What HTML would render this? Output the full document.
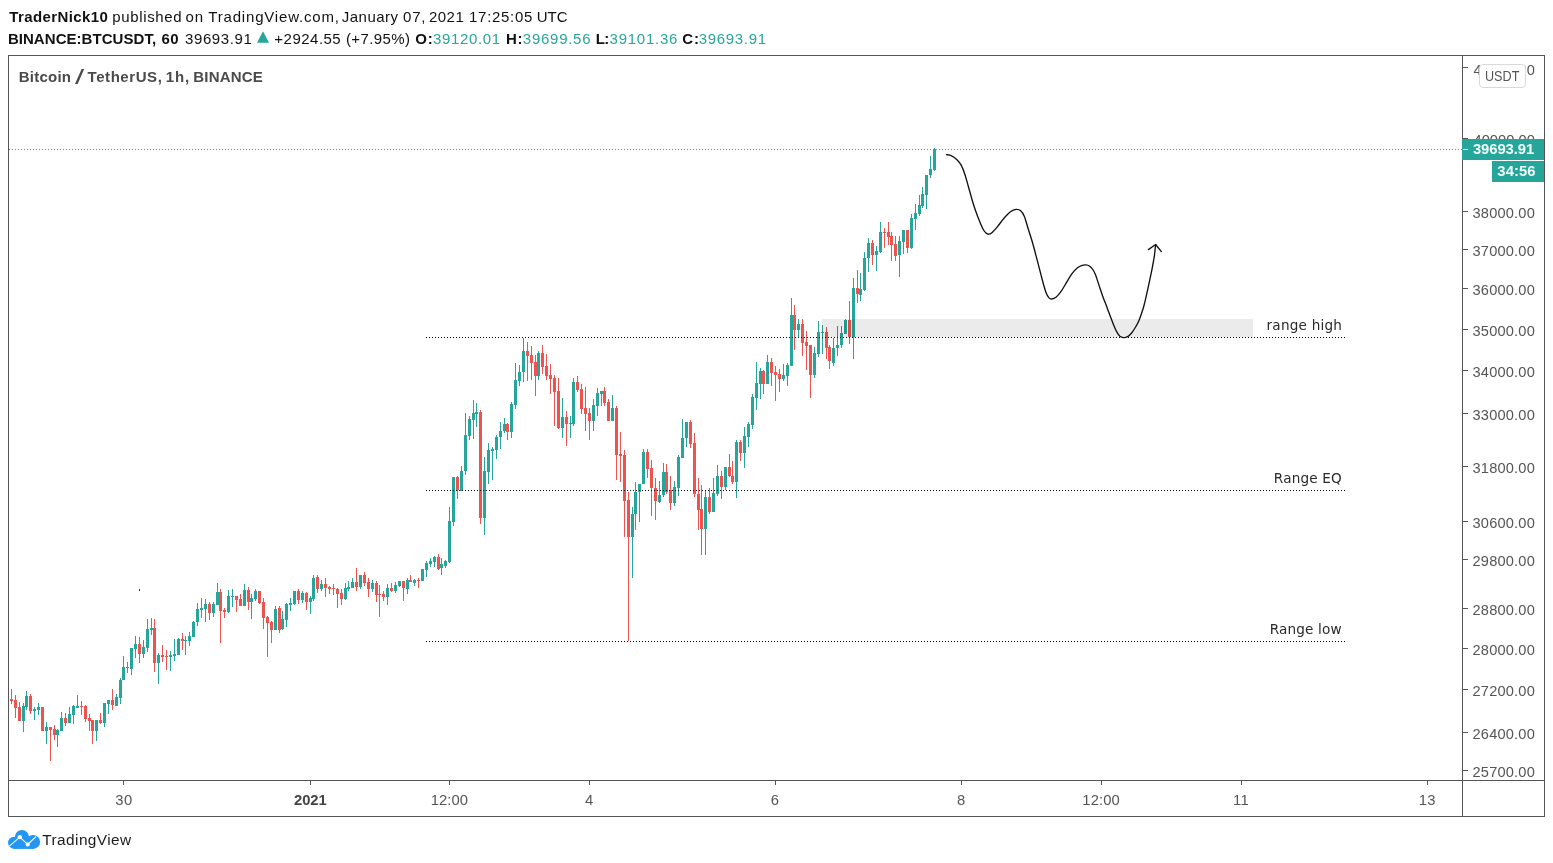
<!DOCTYPE html>
<html><head><meta charset="utf-8"><title>BTCUSDT chart</title>
<style>
html,body{margin:0;padding:0;background:#fff;}
body{width:1553px;height:863px;position:relative;overflow:hidden;font-family:"Liberation Sans",sans-serif;color:#111;}
.abs{position:absolute;left:0;top:0;}
.t{position:absolute;line-height:30px;white-space:pre;}
.frame{position:absolute;left:8px;top:55px;width:1535px;height:760px;border:1px solid #555;}
.vsep{position:absolute;left:1462px;top:55px;width:1px;height:762px;background:#555;}
.hsep{position:absolute;left:8px;top:780px;width:1537px;height:1px;background:#555;}
.usdt{position:absolute;left:1479px;top:64px;width:45px;height:22px;border:1px solid #d9d9d9;border-radius:4px;background:#fff;}
.pbox{position:absolute;left:1462px;top:139px;width:82px;height:21px;background:#26a69a;}
.cbox{position:absolute;left:1492px;top:161px;width:52px;height:21px;background:#26a69a;}
</style></head><body>
<div class="frame"></div><div class="vsep"></div><div class="hsep"></div>
<span class="t" style="left:1473.50px;top:124.70px;font-size:14.6px;letter-spacing:0.06px;color:#555;">40000.00</span>
<span class="t" style="left:1472.50px;top:197.70px;font-size:14.6px;letter-spacing:0.20px;color:#555;">38000.00</span>
<span class="t" style="left:1472.50px;top:235.70px;font-size:14.6px;letter-spacing:0.20px;color:#555;">37000.00</span>
<span class="t" style="left:1472.50px;top:274.70px;font-size:14.6px;letter-spacing:0.20px;color:#555;">36000.00</span>
<span class="t" style="left:1472.50px;top:315.70px;font-size:14.6px;letter-spacing:0.20px;color:#555;">35000.00</span>
<span class="t" style="left:1472.50px;top:356.70px;font-size:14.6px;letter-spacing:0.20px;color:#555;">34000.00</span>
<span class="t" style="left:1472.50px;top:399.70px;font-size:14.6px;letter-spacing:0.20px;color:#555;">33000.00</span>
<span class="t" style="left:1472.50px;top:452.70px;font-size:14.6px;letter-spacing:0.20px;color:#555;">31800.00</span>
<span class="t" style="left:1472.50px;top:507.70px;font-size:14.6px;letter-spacing:0.20px;color:#555;">30600.00</span>
<span class="t" style="left:1472.50px;top:545.70px;font-size:14.6px;letter-spacing:0.20px;color:#555;">29800.00</span>
<span class="t" style="left:1472.50px;top:594.70px;font-size:14.6px;letter-spacing:0.20px;color:#555;">28800.00</span>
<span class="t" style="left:1472.50px;top:634.70px;font-size:14.6px;letter-spacing:0.20px;color:#555;">28000.00</span>
<span class="t" style="left:1472.50px;top:675.70px;font-size:14.6px;letter-spacing:0.20px;color:#555;">27200.00</span>
<span class="t" style="left:1472.50px;top:718.70px;font-size:14.6px;letter-spacing:0.20px;color:#555;">26400.00</span>
<span class="t" style="left:1472.50px;top:756.70px;font-size:14.6px;letter-spacing:0.20px;color:#555;">25700.00</span>
<span class="t" style="left:1473.50px;top:55.00px;font-size:14.6px;letter-spacing:0.06px;color:#555;">42000.00</span>
<svg class="abs" width="1553" height="863" viewBox="0 0 1553 863" shape-rendering="crispEdges">
<line x1="9" x2="1462" y1="149.5" y2="149.5" stroke="#4f9a92" stroke-width="1" stroke-dasharray="1 2"/>
<rect x="1463" y="67" width="5" height="1" fill="#555"/><rect x="1463" y="138" width="5" height="1" fill="#555"/><rect x="1463" y="211" width="5" height="1" fill="#555"/><rect x="1463" y="249" width="5" height="1" fill="#555"/><rect x="1463" y="288" width="5" height="1" fill="#555"/><rect x="1463" y="329" width="5" height="1" fill="#555"/><rect x="1463" y="370" width="5" height="1" fill="#555"/><rect x="1463" y="413" width="5" height="1" fill="#555"/><rect x="1463" y="466" width="5" height="1" fill="#555"/><rect x="1463" y="521" width="5" height="1" fill="#555"/><rect x="1463" y="559" width="5" height="1" fill="#555"/><rect x="1463" y="608" width="5" height="1" fill="#555"/><rect x="1463" y="648" width="5" height="1" fill="#555"/><rect x="1463" y="689" width="5" height="1" fill="#555"/><rect x="1463" y="732" width="5" height="1" fill="#555"/><rect x="1463" y="770" width="5" height="1" fill="#555"/><rect x="123" y="781" width="1" height="4" fill="#555"/><rect x="310" y="781" width="1" height="4" fill="#555"/><rect x="449" y="781" width="1" height="4" fill="#555"/><rect x="589" y="781" width="1" height="4" fill="#555"/><rect x="775" y="781" width="1" height="4" fill="#555"/><rect x="961" y="781" width="1" height="4" fill="#555"/><rect x="1101" y="781" width="1" height="4" fill="#555"/><rect x="1241" y="781" width="1" height="4" fill="#555"/><rect x="1427" y="781" width="1" height="4" fill="#555"/>
<rect x="11" y="689" width="1" height="15" fill="#ef5350"/>
<rect x="10" y="699" width="3" height="2" fill="#ef5350"/>
<rect x="15" y="695" width="1" height="23" fill="#ef5350"/>
<rect x="14" y="700" width="3" height="8" fill="#ef5350"/>
<rect x="19" y="702" width="1" height="19" fill="#ef5350"/>
<rect x="18" y="707" width="3" height="14" fill="#ef5350"/>
<rect x="23" y="703" width="1" height="29" fill="#26a69a"/>
<rect x="22" y="706" width="3" height="15" fill="#26a69a"/>
<rect x="26" y="691" width="1" height="19" fill="#26a69a"/>
<rect x="25" y="696" width="3" height="11" fill="#26a69a"/>
<rect x="30" y="694" width="1" height="20" fill="#ef5350"/>
<rect x="29" y="696" width="3" height="15" fill="#ef5350"/>
<rect x="34" y="707" width="1" height="13" fill="#26a69a"/>
<rect x="33" y="709" width="3" height="2" fill="#26a69a"/>
<rect x="38" y="703" width="1" height="12" fill="#26a69a"/>
<rect x="37" y="707" width="3" height="3" fill="#26a69a"/>
<rect x="42" y="707" width="1" height="24" fill="#ef5350"/>
<rect x="41" y="707" width="3" height="24" fill="#ef5350"/>
<rect x="46" y="722" width="1" height="22" fill="#26a69a"/>
<rect x="45" y="727" width="3" height="4" fill="#26a69a"/>
<rect x="50" y="727" width="1" height="34" fill="#ef5350"/>
<rect x="49" y="727" width="3" height="3" fill="#ef5350"/>
<rect x="54" y="725" width="1" height="15" fill="#ef5350"/>
<rect x="53" y="729" width="3" height="6" fill="#ef5350"/>
<rect x="57" y="729" width="1" height="18" fill="#26a69a"/>
<rect x="56" y="730" width="3" height="5" fill="#26a69a"/>
<rect x="61" y="712" width="1" height="19" fill="#26a69a"/>
<rect x="60" y="718" width="3" height="13" fill="#26a69a"/>
<rect x="65" y="713" width="1" height="13" fill="#ef5350"/>
<rect x="64" y="718" width="3" height="5" fill="#ef5350"/>
<rect x="69" y="707" width="1" height="16" fill="#26a69a"/>
<rect x="68" y="714" width="3" height="9" fill="#26a69a"/>
<rect x="73" y="705" width="1" height="19" fill="#26a69a"/>
<rect x="72" y="706" width="3" height="9" fill="#26a69a"/>
<rect x="77" y="695" width="1" height="13" fill="#26a69a"/>
<rect x="76" y="706" width="3" height="2" fill="#26a69a"/>
<rect x="81" y="701" width="1" height="14" fill="#ef5350"/>
<rect x="80" y="706" width="3" height="1" fill="#ef5350"/>
<rect x="85" y="705" width="1" height="17" fill="#ef5350"/>
<rect x="84" y="706" width="3" height="13" fill="#ef5350"/>
<rect x="89" y="714" width="1" height="17" fill="#ef5350"/>
<rect x="88" y="718" width="3" height="3" fill="#ef5350"/>
<rect x="92" y="720" width="1" height="24" fill="#ef5350"/>
<rect x="91" y="720" width="3" height="11" fill="#ef5350"/>
<rect x="96" y="720" width="1" height="21" fill="#26a69a"/>
<rect x="95" y="720" width="3" height="11" fill="#26a69a"/>
<rect x="100" y="713" width="1" height="11" fill="#ef5350"/>
<rect x="99" y="720" width="3" height="3" fill="#ef5350"/>
<rect x="104" y="703" width="1" height="24" fill="#26a69a"/>
<rect x="103" y="703" width="3" height="20" fill="#26a69a"/>
<rect x="108" y="700" width="1" height="14" fill="#26a69a"/>
<rect x="107" y="700" width="3" height="4" fill="#26a69a"/>
<rect x="112" y="689" width="1" height="21" fill="#ef5350"/>
<rect x="111" y="700" width="3" height="5" fill="#ef5350"/>
<rect x="116" y="694" width="1" height="12" fill="#26a69a"/>
<rect x="115" y="697" width="3" height="9" fill="#26a69a"/>
<rect x="120" y="678" width="1" height="26" fill="#26a69a"/>
<rect x="119" y="680" width="3" height="18" fill="#26a69a"/>
<rect x="123" y="656" width="1" height="24" fill="#26a69a"/>
<rect x="122" y="667" width="3" height="13" fill="#26a69a"/>
<rect x="127" y="662" width="1" height="11" fill="#ef5350"/>
<rect x="126" y="667" width="3" height="1" fill="#ef5350"/>
<rect x="131" y="648" width="1" height="27" fill="#26a69a"/>
<rect x="130" y="648" width="3" height="21" fill="#26a69a"/>
<rect x="135" y="636" width="1" height="22" fill="#26a69a"/>
<rect x="134" y="644" width="3" height="5" fill="#26a69a"/>
<rect x="139" y="637" width="1" height="26" fill="#ef5350"/>
<rect x="138" y="644" width="3" height="10" fill="#ef5350"/>
<rect x="143" y="640" width="1" height="18" fill="#26a69a"/>
<rect x="142" y="647" width="3" height="7" fill="#26a69a"/>
<rect x="147" y="619" width="1" height="33" fill="#26a69a"/>
<rect x="146" y="629" width="3" height="19" fill="#26a69a"/>
<rect x="151" y="618" width="1" height="17" fill="#26a69a"/>
<rect x="150" y="628" width="3" height="2" fill="#26a69a"/>
<rect x="154" y="619" width="1" height="53" fill="#ef5350"/>
<rect x="153" y="628" width="3" height="35" fill="#ef5350"/>
<rect x="158" y="653" width="1" height="31" fill="#26a69a"/>
<rect x="157" y="655" width="3" height="8" fill="#26a69a"/>
<rect x="162" y="645" width="1" height="17" fill="#ef5350"/>
<rect x="161" y="655" width="3" height="2" fill="#ef5350"/>
<rect x="166" y="650" width="1" height="20" fill="#ef5350"/>
<rect x="165" y="656" width="3" height="1" fill="#ef5350"/>
<rect x="170" y="651" width="1" height="20" fill="#26a69a"/>
<rect x="169" y="655" width="3" height="2" fill="#26a69a"/>
<rect x="174" y="639" width="1" height="22" fill="#26a69a"/>
<rect x="173" y="654" width="3" height="2" fill="#26a69a"/>
<rect x="178" y="638" width="1" height="17" fill="#26a69a"/>
<rect x="177" y="639" width="3" height="16" fill="#26a69a"/>
<rect x="182" y="633" width="1" height="17" fill="#ef5350"/>
<rect x="181" y="639" width="3" height="2" fill="#ef5350"/>
<rect x="185" y="636" width="1" height="19" fill="#26a69a"/>
<rect x="184" y="640" width="3" height="1" fill="#26a69a"/>
<rect x="189" y="632" width="1" height="14" fill="#26a69a"/>
<rect x="188" y="636" width="3" height="5" fill="#26a69a"/>
<rect x="193" y="621" width="1" height="16" fill="#26a69a"/>
<rect x="192" y="622" width="3" height="15" fill="#26a69a"/>
<rect x="197" y="603" width="1" height="23" fill="#26a69a"/>
<rect x="196" y="609" width="3" height="13" fill="#26a69a"/>
<rect x="201" y="598" width="1" height="20" fill="#26a69a"/>
<rect x="200" y="608" width="3" height="2" fill="#26a69a"/>
<rect x="205" y="599" width="1" height="23" fill="#26a69a"/>
<rect x="204" y="604" width="3" height="5" fill="#26a69a"/>
<rect x="209" y="602" width="1" height="18" fill="#ef5350"/>
<rect x="208" y="604" width="3" height="9" fill="#ef5350"/>
<rect x="213" y="602" width="1" height="15" fill="#26a69a"/>
<rect x="212" y="604" width="3" height="9" fill="#26a69a"/>
<rect x="217" y="583" width="1" height="22" fill="#26a69a"/>
<rect x="216" y="592" width="3" height="13" fill="#26a69a"/>
<rect x="220" y="589" width="1" height="54" fill="#ef5350"/>
<rect x="219" y="592" width="3" height="19" fill="#ef5350"/>
<rect x="224" y="608" width="1" height="10" fill="#ef5350"/>
<rect x="223" y="610" width="3" height="2" fill="#ef5350"/>
<rect x="228" y="590" width="1" height="23" fill="#26a69a"/>
<rect x="227" y="596" width="3" height="16" fill="#26a69a"/>
<rect x="232" y="589" width="1" height="18" fill="#26a69a"/>
<rect x="231" y="596" width="3" height="1" fill="#26a69a"/>
<rect x="236" y="596" width="1" height="16" fill="#ef5350"/>
<rect x="235" y="596" width="3" height="4" fill="#ef5350"/>
<rect x="240" y="594" width="1" height="12" fill="#ef5350"/>
<rect x="239" y="599" width="3" height="7" fill="#ef5350"/>
<rect x="244" y="584" width="1" height="22" fill="#26a69a"/>
<rect x="243" y="590" width="3" height="16" fill="#26a69a"/>
<rect x="248" y="587" width="1" height="23" fill="#ef5350"/>
<rect x="247" y="590" width="3" height="12" fill="#ef5350"/>
<rect x="251" y="594" width="1" height="25" fill="#26a69a"/>
<rect x="250" y="598" width="3" height="4" fill="#26a69a"/>
<rect x="255" y="589" width="1" height="12" fill="#26a69a"/>
<rect x="254" y="591" width="3" height="8" fill="#26a69a"/>
<rect x="259" y="591" width="1" height="13" fill="#ef5350"/>
<rect x="258" y="591" width="3" height="12" fill="#ef5350"/>
<rect x="263" y="598" width="1" height="31" fill="#ef5350"/>
<rect x="262" y="602" width="3" height="16" fill="#ef5350"/>
<rect x="267" y="616" width="1" height="41" fill="#ef5350"/>
<rect x="266" y="617" width="3" height="6" fill="#ef5350"/>
<rect x="271" y="621" width="1" height="22" fill="#ef5350"/>
<rect x="270" y="622" width="3" height="8" fill="#ef5350"/>
<rect x="275" y="606" width="1" height="24" fill="#26a69a"/>
<rect x="274" y="609" width="3" height="21" fill="#26a69a"/>
<rect x="279" y="606" width="1" height="27" fill="#ef5350"/>
<rect x="278" y="608" width="3" height="22" fill="#ef5350"/>
<rect x="282" y="611" width="1" height="19" fill="#26a69a"/>
<rect x="281" y="619" width="3" height="10" fill="#26a69a"/>
<rect x="286" y="603" width="1" height="24" fill="#26a69a"/>
<rect x="285" y="604" width="3" height="16" fill="#26a69a"/>
<rect x="290" y="598" width="1" height="13" fill="#26a69a"/>
<rect x="289" y="603" width="3" height="2" fill="#26a69a"/>
<rect x="294" y="591" width="1" height="14" fill="#26a69a"/>
<rect x="293" y="591" width="3" height="13" fill="#26a69a"/>
<rect x="298" y="589" width="1" height="15" fill="#ef5350"/>
<rect x="297" y="591" width="3" height="9" fill="#ef5350"/>
<rect x="302" y="591" width="1" height="12" fill="#26a69a"/>
<rect x="301" y="593" width="3" height="7" fill="#26a69a"/>
<rect x="306" y="592" width="1" height="18" fill="#ef5350"/>
<rect x="305" y="593" width="3" height="9" fill="#ef5350"/>
<rect x="310" y="596" width="1" height="18" fill="#26a69a"/>
<rect x="309" y="598" width="3" height="4" fill="#26a69a"/>
<rect x="313" y="575" width="1" height="26" fill="#26a69a"/>
<rect x="312" y="578" width="3" height="21" fill="#26a69a"/>
<rect x="317" y="575" width="1" height="18" fill="#ef5350"/>
<rect x="316" y="577" width="3" height="12" fill="#ef5350"/>
<rect x="321" y="580" width="1" height="11" fill="#26a69a"/>
<rect x="320" y="584" width="3" height="5" fill="#26a69a"/>
<rect x="325" y="578" width="1" height="19" fill="#ef5350"/>
<rect x="324" y="584" width="3" height="4" fill="#ef5350"/>
<rect x="329" y="586" width="1" height="8" fill="#ef5350"/>
<rect x="328" y="587" width="3" height="2" fill="#ef5350"/>
<rect x="333" y="584" width="1" height="11" fill="#ef5350"/>
<rect x="332" y="588" width="3" height="1" fill="#ef5350"/>
<rect x="337" y="588" width="1" height="20" fill="#ef5350"/>
<rect x="336" y="589" width="3" height="5" fill="#ef5350"/>
<rect x="341" y="589" width="1" height="16" fill="#ef5350"/>
<rect x="340" y="593" width="3" height="6" fill="#ef5350"/>
<rect x="345" y="583" width="1" height="17" fill="#26a69a"/>
<rect x="344" y="588" width="3" height="11" fill="#26a69a"/>
<rect x="348" y="581" width="1" height="10" fill="#26a69a"/>
<rect x="347" y="587" width="3" height="2" fill="#26a69a"/>
<rect x="352" y="578" width="1" height="10" fill="#26a69a"/>
<rect x="351" y="582" width="3" height="6" fill="#26a69a"/>
<rect x="356" y="568" width="1" height="23" fill="#ef5350"/>
<rect x="355" y="582" width="3" height="5" fill="#ef5350"/>
<rect x="360" y="575" width="1" height="14" fill="#26a69a"/>
<rect x="359" y="575" width="3" height="12" fill="#26a69a"/>
<rect x="364" y="572" width="1" height="14" fill="#ef5350"/>
<rect x="363" y="575" width="3" height="8" fill="#ef5350"/>
<rect x="368" y="578" width="1" height="19" fill="#ef5350"/>
<rect x="367" y="582" width="3" height="7" fill="#ef5350"/>
<rect x="372" y="580" width="1" height="12" fill="#26a69a"/>
<rect x="371" y="583" width="3" height="6" fill="#26a69a"/>
<rect x="376" y="581" width="1" height="21" fill="#ef5350"/>
<rect x="375" y="583" width="3" height="12" fill="#ef5350"/>
<rect x="379" y="585" width="1" height="32" fill="#ef5350"/>
<rect x="378" y="594" width="3" height="1" fill="#ef5350"/>
<rect x="383" y="591" width="1" height="10" fill="#ef5350"/>
<rect x="382" y="594" width="3" height="3" fill="#ef5350"/>
<rect x="387" y="584" width="1" height="21" fill="#26a69a"/>
<rect x="386" y="588" width="3" height="9" fill="#26a69a"/>
<rect x="391" y="583" width="1" height="9" fill="#ef5350"/>
<rect x="390" y="588" width="3" height="3" fill="#ef5350"/>
<rect x="395" y="582" width="1" height="11" fill="#26a69a"/>
<rect x="394" y="585" width="3" height="6" fill="#26a69a"/>
<rect x="399" y="581" width="1" height="6" fill="#26a69a"/>
<rect x="398" y="581" width="3" height="5" fill="#26a69a"/>
<rect x="403" y="581" width="1" height="20" fill="#ef5350"/>
<rect x="402" y="581" width="3" height="7" fill="#ef5350"/>
<rect x="407" y="578" width="1" height="16" fill="#26a69a"/>
<rect x="406" y="580" width="3" height="9" fill="#26a69a"/>
<rect x="410" y="575" width="1" height="7" fill="#ef5350"/>
<rect x="409" y="580" width="3" height="2" fill="#ef5350"/>
<rect x="414" y="579" width="1" height="7" fill="#26a69a"/>
<rect x="413" y="580" width="3" height="3" fill="#26a69a"/>
<rect x="418" y="578" width="1" height="10" fill="#ef5350"/>
<rect x="417" y="580" width="3" height="1" fill="#ef5350"/>
<rect x="422" y="569" width="1" height="12" fill="#26a69a"/>
<rect x="421" y="569" width="3" height="12" fill="#26a69a"/>
<rect x="426" y="561" width="1" height="16" fill="#26a69a"/>
<rect x="425" y="563" width="3" height="7" fill="#26a69a"/>
<rect x="430" y="558" width="1" height="9" fill="#26a69a"/>
<rect x="429" y="561" width="3" height="3" fill="#26a69a"/>
<rect x="434" y="556" width="1" height="11" fill="#26a69a"/>
<rect x="433" y="557" width="3" height="5" fill="#26a69a"/>
<rect x="438" y="554" width="1" height="16" fill="#ef5350"/>
<rect x="437" y="557" width="3" height="12" fill="#ef5350"/>
<rect x="441" y="558" width="1" height="17" fill="#26a69a"/>
<rect x="440" y="564" width="3" height="4" fill="#26a69a"/>
<rect x="445" y="560" width="1" height="8" fill="#26a69a"/>
<rect x="444" y="561" width="3" height="5" fill="#26a69a"/>
<rect x="449" y="507" width="1" height="56" fill="#26a69a"/>
<rect x="448" y="521" width="3" height="41" fill="#26a69a"/>
<rect x="453" y="477" width="1" height="49" fill="#26a69a"/>
<rect x="452" y="477" width="3" height="45" fill="#26a69a"/>
<rect x="457" y="476" width="1" height="23" fill="#ef5350"/>
<rect x="456" y="477" width="3" height="13" fill="#ef5350"/>
<rect x="461" y="466" width="1" height="25" fill="#26a69a"/>
<rect x="460" y="471" width="3" height="20" fill="#26a69a"/>
<rect x="465" y="413" width="1" height="62" fill="#26a69a"/>
<rect x="464" y="435" width="3" height="36" fill="#26a69a"/>
<rect x="469" y="416" width="1" height="24" fill="#26a69a"/>
<rect x="468" y="419" width="3" height="17" fill="#26a69a"/>
<rect x="473" y="400" width="1" height="39" fill="#26a69a"/>
<rect x="472" y="413" width="3" height="7" fill="#26a69a"/>
<rect x="476" y="403" width="1" height="24" fill="#26a69a"/>
<rect x="475" y="412" width="3" height="2" fill="#26a69a"/>
<rect x="480" y="410" width="1" height="114" fill="#ef5350"/>
<rect x="479" y="412" width="3" height="106" fill="#ef5350"/>
<rect x="484" y="457" width="1" height="78" fill="#26a69a"/>
<rect x="483" y="471" width="3" height="47" fill="#26a69a"/>
<rect x="488" y="443" width="1" height="41" fill="#26a69a"/>
<rect x="487" y="450" width="3" height="22" fill="#26a69a"/>
<rect x="492" y="447" width="1" height="33" fill="#26a69a"/>
<rect x="491" y="449" width="3" height="2" fill="#26a69a"/>
<rect x="496" y="435" width="1" height="24" fill="#26a69a"/>
<rect x="495" y="437" width="3" height="13" fill="#26a69a"/>
<rect x="500" y="422" width="1" height="27" fill="#26a69a"/>
<rect x="499" y="431" width="3" height="6" fill="#26a69a"/>
<rect x="504" y="418" width="1" height="15" fill="#26a69a"/>
<rect x="503" y="424" width="3" height="7" fill="#26a69a"/>
<rect x="507" y="423" width="1" height="17" fill="#ef5350"/>
<rect x="506" y="424" width="3" height="8" fill="#ef5350"/>
<rect x="511" y="402" width="1" height="36" fill="#26a69a"/>
<rect x="510" y="404" width="3" height="28" fill="#26a69a"/>
<rect x="515" y="363" width="1" height="46" fill="#26a69a"/>
<rect x="514" y="380" width="3" height="25" fill="#26a69a"/>
<rect x="519" y="365" width="1" height="21" fill="#26a69a"/>
<rect x="518" y="372" width="3" height="9" fill="#26a69a"/>
<rect x="523" y="338" width="1" height="44" fill="#26a69a"/>
<rect x="522" y="351" width="3" height="21" fill="#26a69a"/>
<rect x="527" y="342" width="1" height="39" fill="#ef5350"/>
<rect x="526" y="351" width="3" height="5" fill="#ef5350"/>
<rect x="531" y="346" width="1" height="34" fill="#ef5350"/>
<rect x="530" y="355" width="3" height="8" fill="#ef5350"/>
<rect x="535" y="355" width="1" height="41" fill="#ef5350"/>
<rect x="534" y="362" width="3" height="14" fill="#ef5350"/>
<rect x="538" y="351" width="1" height="29" fill="#26a69a"/>
<rect x="537" y="353" width="3" height="23" fill="#26a69a"/>
<rect x="542" y="345" width="1" height="29" fill="#ef5350"/>
<rect x="541" y="353" width="3" height="14" fill="#ef5350"/>
<rect x="546" y="354" width="1" height="26" fill="#ef5350"/>
<rect x="545" y="366" width="3" height="10" fill="#ef5350"/>
<rect x="550" y="364" width="1" height="30" fill="#ef5350"/>
<rect x="549" y="375" width="3" height="4" fill="#ef5350"/>
<rect x="554" y="375" width="1" height="51" fill="#ef5350"/>
<rect x="553" y="378" width="3" height="14" fill="#ef5350"/>
<rect x="558" y="378" width="1" height="51" fill="#ef5350"/>
<rect x="557" y="391" width="3" height="37" fill="#ef5350"/>
<rect x="562" y="398" width="1" height="40" fill="#26a69a"/>
<rect x="561" y="417" width="3" height="11" fill="#26a69a"/>
<rect x="566" y="411" width="1" height="35" fill="#ef5350"/>
<rect x="565" y="417" width="3" height="7" fill="#ef5350"/>
<rect x="570" y="416" width="1" height="22" fill="#26a69a"/>
<rect x="569" y="423" width="3" height="1" fill="#26a69a"/>
<rect x="573" y="378" width="1" height="48" fill="#26a69a"/>
<rect x="572" y="382" width="3" height="42" fill="#26a69a"/>
<rect x="577" y="376" width="1" height="16" fill="#ef5350"/>
<rect x="576" y="382" width="3" height="8" fill="#ef5350"/>
<rect x="581" y="384" width="1" height="30" fill="#ef5350"/>
<rect x="580" y="389" width="3" height="20" fill="#ef5350"/>
<rect x="585" y="387" width="1" height="44" fill="#ef5350"/>
<rect x="584" y="408" width="3" height="6" fill="#ef5350"/>
<rect x="589" y="408" width="1" height="32" fill="#ef5350"/>
<rect x="588" y="413" width="3" height="8" fill="#ef5350"/>
<rect x="593" y="399" width="1" height="32" fill="#26a69a"/>
<rect x="592" y="405" width="3" height="16" fill="#26a69a"/>
<rect x="597" y="388" width="1" height="28" fill="#26a69a"/>
<rect x="596" y="393" width="3" height="13" fill="#26a69a"/>
<rect x="601" y="391" width="1" height="15" fill="#26a69a"/>
<rect x="600" y="391" width="3" height="3" fill="#26a69a"/>
<rect x="604" y="387" width="1" height="19" fill="#ef5350"/>
<rect x="603" y="391" width="3" height="12" fill="#ef5350"/>
<rect x="608" y="399" width="1" height="22" fill="#ef5350"/>
<rect x="607" y="402" width="3" height="19" fill="#ef5350"/>
<rect x="612" y="395" width="1" height="26" fill="#26a69a"/>
<rect x="611" y="408" width="3" height="13" fill="#26a69a"/>
<rect x="616" y="406" width="1" height="74" fill="#ef5350"/>
<rect x="615" y="408" width="3" height="47" fill="#ef5350"/>
<rect x="620" y="432" width="1" height="50" fill="#ef5350"/>
<rect x="619" y="454" width="3" height="2" fill="#ef5350"/>
<rect x="624" y="450" width="1" height="87" fill="#ef5350"/>
<rect x="623" y="455" width="3" height="46" fill="#ef5350"/>
<rect x="628" y="492" width="1" height="149" fill="#ef5350"/>
<rect x="627" y="500" width="3" height="37" fill="#ef5350"/>
<rect x="632" y="507" width="1" height="71" fill="#26a69a"/>
<rect x="631" y="514" width="3" height="23" fill="#26a69a"/>
<rect x="635" y="482" width="1" height="48" fill="#26a69a"/>
<rect x="634" y="492" width="3" height="22" fill="#26a69a"/>
<rect x="639" y="484" width="1" height="38" fill="#26a69a"/>
<rect x="638" y="484" width="3" height="8" fill="#26a69a"/>
<rect x="643" y="449" width="1" height="35" fill="#26a69a"/>
<rect x="642" y="452" width="3" height="32" fill="#26a69a"/>
<rect x="647" y="449" width="1" height="29" fill="#ef5350"/>
<rect x="646" y="452" width="3" height="17" fill="#ef5350"/>
<rect x="651" y="460" width="1" height="56" fill="#ef5350"/>
<rect x="650" y="468" width="3" height="20" fill="#ef5350"/>
<rect x="655" y="478" width="1" height="42" fill="#ef5350"/>
<rect x="654" y="488" width="3" height="13" fill="#ef5350"/>
<rect x="659" y="481" width="1" height="22" fill="#26a69a"/>
<rect x="658" y="495" width="3" height="7" fill="#26a69a"/>
<rect x="663" y="463" width="1" height="34" fill="#26a69a"/>
<rect x="662" y="472" width="3" height="23" fill="#26a69a"/>
<rect x="666" y="464" width="1" height="30" fill="#ef5350"/>
<rect x="665" y="472" width="3" height="20" fill="#ef5350"/>
<rect x="670" y="476" width="1" height="34" fill="#ef5350"/>
<rect x="669" y="490" width="3" height="13" fill="#ef5350"/>
<rect x="674" y="481" width="1" height="25" fill="#26a69a"/>
<rect x="673" y="487" width="3" height="16" fill="#26a69a"/>
<rect x="678" y="455" width="1" height="41" fill="#26a69a"/>
<rect x="677" y="457" width="3" height="31" fill="#26a69a"/>
<rect x="682" y="419" width="1" height="39" fill="#26a69a"/>
<rect x="681" y="438" width="3" height="20" fill="#26a69a"/>
<rect x="686" y="422" width="1" height="25" fill="#26a69a"/>
<rect x="685" y="422" width="3" height="16" fill="#26a69a"/>
<rect x="690" y="420" width="1" height="28" fill="#ef5350"/>
<rect x="689" y="422" width="3" height="22" fill="#ef5350"/>
<rect x="694" y="433" width="1" height="64" fill="#ef5350"/>
<rect x="693" y="443" width="3" height="51" fill="#ef5350"/>
<rect x="698" y="478" width="1" height="52" fill="#ef5350"/>
<rect x="697" y="494" width="3" height="16" fill="#ef5350"/>
<rect x="701" y="485" width="1" height="70" fill="#ef5350"/>
<rect x="700" y="509" width="3" height="20" fill="#ef5350"/>
<rect x="705" y="491" width="1" height="64" fill="#26a69a"/>
<rect x="704" y="497" width="3" height="32" fill="#26a69a"/>
<rect x="709" y="488" width="1" height="26" fill="#ef5350"/>
<rect x="708" y="497" width="3" height="15" fill="#ef5350"/>
<rect x="713" y="478" width="1" height="34" fill="#26a69a"/>
<rect x="712" y="493" width="3" height="19" fill="#26a69a"/>
<rect x="717" y="465" width="1" height="31" fill="#26a69a"/>
<rect x="716" y="476" width="3" height="18" fill="#26a69a"/>
<rect x="721" y="471" width="1" height="28" fill="#ef5350"/>
<rect x="720" y="476" width="3" height="11" fill="#ef5350"/>
<rect x="725" y="467" width="1" height="23" fill="#26a69a"/>
<rect x="724" y="467" width="3" height="20" fill="#26a69a"/>
<rect x="729" y="454" width="1" height="23" fill="#ef5350"/>
<rect x="728" y="467" width="3" height="9" fill="#ef5350"/>
<rect x="732" y="461" width="1" height="23" fill="#ef5350"/>
<rect x="731" y="476" width="3" height="6" fill="#ef5350"/>
<rect x="736" y="440" width="1" height="58" fill="#26a69a"/>
<rect x="735" y="442" width="3" height="40" fill="#26a69a"/>
<rect x="740" y="440" width="1" height="21" fill="#ef5350"/>
<rect x="739" y="442" width="3" height="11" fill="#ef5350"/>
<rect x="744" y="427" width="1" height="41" fill="#26a69a"/>
<rect x="743" y="436" width="3" height="17" fill="#26a69a"/>
<rect x="748" y="422" width="1" height="25" fill="#26a69a"/>
<rect x="747" y="424" width="3" height="13" fill="#26a69a"/>
<rect x="752" y="394" width="1" height="35" fill="#26a69a"/>
<rect x="751" y="397" width="3" height="28" fill="#26a69a"/>
<rect x="756" y="362" width="1" height="48" fill="#26a69a"/>
<rect x="755" y="383" width="3" height="15" fill="#26a69a"/>
<rect x="760" y="368" width="1" height="31" fill="#26a69a"/>
<rect x="759" y="371" width="3" height="13" fill="#26a69a"/>
<rect x="763" y="370" width="1" height="24" fill="#ef5350"/>
<rect x="762" y="371" width="3" height="13" fill="#ef5350"/>
<rect x="767" y="355" width="1" height="29" fill="#26a69a"/>
<rect x="766" y="362" width="3" height="22" fill="#26a69a"/>
<rect x="771" y="358" width="1" height="28" fill="#ef5350"/>
<rect x="770" y="362" width="3" height="11" fill="#ef5350"/>
<rect x="775" y="366" width="1" height="35" fill="#ef5350"/>
<rect x="774" y="372" width="3" height="3" fill="#ef5350"/>
<rect x="779" y="369" width="1" height="23" fill="#ef5350"/>
<rect x="778" y="374" width="3" height="5" fill="#ef5350"/>
<rect x="783" y="364" width="1" height="17" fill="#26a69a"/>
<rect x="782" y="375" width="3" height="4" fill="#26a69a"/>
<rect x="787" y="363" width="1" height="23" fill="#26a69a"/>
<rect x="786" y="365" width="3" height="11" fill="#26a69a"/>
<rect x="791" y="298" width="1" height="68" fill="#26a69a"/>
<rect x="790" y="315" width="3" height="51" fill="#26a69a"/>
<rect x="794" y="305" width="1" height="45" fill="#ef5350"/>
<rect x="793" y="315" width="3" height="15" fill="#ef5350"/>
<rect x="798" y="319" width="1" height="19" fill="#26a69a"/>
<rect x="797" y="324" width="3" height="6" fill="#26a69a"/>
<rect x="802" y="319" width="1" height="37" fill="#ef5350"/>
<rect x="801" y="324" width="3" height="19" fill="#ef5350"/>
<rect x="806" y="331" width="1" height="39" fill="#ef5350"/>
<rect x="805" y="342" width="3" height="4" fill="#ef5350"/>
<rect x="810" y="345" width="1" height="53" fill="#ef5350"/>
<rect x="809" y="345" width="3" height="30" fill="#ef5350"/>
<rect x="814" y="347" width="1" height="31" fill="#26a69a"/>
<rect x="813" y="353" width="3" height="22" fill="#26a69a"/>
<rect x="818" y="321" width="1" height="36" fill="#26a69a"/>
<rect x="817" y="332" width="3" height="22" fill="#26a69a"/>
<rect x="822" y="325" width="1" height="29" fill="#26a69a"/>
<rect x="821" y="332" width="3" height="1" fill="#26a69a"/>
<rect x="826" y="327" width="1" height="32" fill="#ef5350"/>
<rect x="825" y="332" width="3" height="16" fill="#ef5350"/>
<rect x="829" y="345" width="1" height="24" fill="#ef5350"/>
<rect x="828" y="347" width="3" height="14" fill="#ef5350"/>
<rect x="833" y="338" width="1" height="28" fill="#26a69a"/>
<rect x="832" y="348" width="3" height="15" fill="#26a69a"/>
<rect x="837" y="326" width="1" height="30" fill="#26a69a"/>
<rect x="836" y="345" width="3" height="3" fill="#26a69a"/>
<rect x="841" y="326" width="1" height="22" fill="#26a69a"/>
<rect x="840" y="333" width="3" height="12" fill="#26a69a"/>
<rect x="845" y="319" width="1" height="15" fill="#26a69a"/>
<rect x="844" y="320" width="3" height="14" fill="#26a69a"/>
<rect x="849" y="301" width="1" height="43" fill="#ef5350"/>
<rect x="848" y="320" width="3" height="17" fill="#ef5350"/>
<rect x="853" y="278" width="1" height="81" fill="#26a69a"/>
<rect x="852" y="288" width="3" height="49" fill="#26a69a"/>
<rect x="857" y="270" width="1" height="33" fill="#ef5350"/>
<rect x="856" y="288" width="3" height="6" fill="#ef5350"/>
<rect x="860" y="273" width="1" height="28" fill="#26a69a"/>
<rect x="859" y="289" width="3" height="6" fill="#26a69a"/>
<rect x="864" y="252" width="1" height="39" fill="#26a69a"/>
<rect x="863" y="258" width="3" height="32" fill="#26a69a"/>
<rect x="868" y="238" width="1" height="34" fill="#26a69a"/>
<rect x="867" y="243" width="3" height="15" fill="#26a69a"/>
<rect x="872" y="240" width="1" height="25" fill="#ef5350"/>
<rect x="871" y="243" width="3" height="12" fill="#ef5350"/>
<rect x="876" y="246" width="1" height="25" fill="#26a69a"/>
<rect x="875" y="251" width="3" height="4" fill="#26a69a"/>
<rect x="880" y="222" width="1" height="31" fill="#26a69a"/>
<rect x="879" y="232" width="3" height="20" fill="#26a69a"/>
<rect x="884" y="228" width="1" height="20" fill="#ef5350"/>
<rect x="883" y="232" width="3" height="1" fill="#ef5350"/>
<rect x="888" y="222" width="1" height="23" fill="#ef5350"/>
<rect x="887" y="232" width="3" height="5" fill="#ef5350"/>
<rect x="891" y="232" width="1" height="29" fill="#ef5350"/>
<rect x="890" y="236" width="3" height="9" fill="#ef5350"/>
<rect x="895" y="236" width="1" height="25" fill="#ef5350"/>
<rect x="894" y="244" width="3" height="12" fill="#ef5350"/>
<rect x="899" y="236" width="1" height="41" fill="#26a69a"/>
<rect x="898" y="241" width="3" height="14" fill="#26a69a"/>
<rect x="903" y="230" width="1" height="24" fill="#26a69a"/>
<rect x="902" y="230" width="3" height="12" fill="#26a69a"/>
<rect x="907" y="230" width="1" height="23" fill="#ef5350"/>
<rect x="906" y="230" width="3" height="18" fill="#ef5350"/>
<rect x="911" y="214" width="1" height="35" fill="#26a69a"/>
<rect x="910" y="218" width="3" height="30" fill="#26a69a"/>
<rect x="915" y="204" width="1" height="26" fill="#26a69a"/>
<rect x="914" y="213" width="3" height="6" fill="#26a69a"/>
<rect x="919" y="195" width="1" height="21" fill="#26a69a"/>
<rect x="918" y="205" width="3" height="9" fill="#26a69a"/>
<rect x="922" y="187" width="1" height="21" fill="#26a69a"/>
<rect x="921" y="194" width="3" height="12" fill="#26a69a"/>
<rect x="926" y="175" width="1" height="34" fill="#26a69a"/>
<rect x="925" y="175" width="3" height="20" fill="#26a69a"/>
<rect x="930" y="156" width="1" height="22" fill="#26a69a"/>
<rect x="929" y="169" width="3" height="6" fill="#26a69a"/>
<rect x="934" y="148" width="1" height="23" fill="#26a69a"/>
<rect x="933" y="149" width="3" height="21" fill="#26a69a"/>
<rect x="822" y="319" width="431" height="18" fill="#000" fill-opacity="0.078"/>
<line x1="426" x2="1346" y1="337.5" y2="337.5" stroke="#000" stroke-width="1" stroke-dasharray="1 2"/>
<line x1="426" x2="1346" y1="490.5" y2="490.5" stroke="#000" stroke-width="1" stroke-dasharray="1 2"/>
<line x1="426" x2="1346" y1="641.5" y2="641.5" stroke="#000" stroke-width="1" stroke-dasharray="1 2"/>
</svg>
<div class="usdt"></div>
<div class="pbox"></div>
<div class="cbox"></div>
<svg class="abs" width="1553" height="863" viewBox="0 0 1553 863">
<rect x="1463" y="149" width="5" height="1" fill="#d5f3ef" shape-rendering="crispEdges"/>
<rect x="139" y="589" width="1" height="2" fill="#333" shape-rendering="crispEdges"/>
<polygon points="263,31.3 269,42.7 257,42.7" fill="#26a69a"/>
<path d="M946.5 154.6 C947.3 154.8 949.4 154.8 951.1 155.6 C952.8 156.4 955.0 157.9 956.7 159.5 C958.4 161.1 959.9 162.9 961.3 165.4 C962.7 167.9 963.8 171.0 965.0 174.7 C966.2 178.4 967.3 182.8 968.7 187.7 C970.1 192.6 971.9 199.4 973.4 204.3 C974.9 209.2 976.5 213.3 978.0 217.3 C979.5 221.3 981.4 225.9 982.7 228.5 C984.0 231.1 985.0 232.2 986.0 233.1 C987.0 234.0 987.6 234.3 988.6 234.2 C989.6 234.1 990.4 234.0 991.9 232.7 C993.4 231.4 995.5 229.0 997.5 226.6 C999.5 224.2 1001.8 220.8 1004.0 218.3 C1006.2 215.8 1008.5 213.3 1010.5 211.8 C1012.5 210.3 1014.3 209.6 1016.0 209.4 C1017.7 209.2 1019.3 209.6 1020.7 210.8 C1022.1 212.0 1023.2 213.5 1024.4 216.4 C1025.6 219.3 1026.7 224.0 1028.1 228.5 C1029.5 233.0 1031.2 237.9 1032.7 243.3 C1034.2 248.7 1035.8 254.9 1037.4 260.9 C1039.0 266.9 1040.8 274.2 1042.2 279.5 C1043.6 284.8 1044.9 289.5 1046.0 292.5 C1047.1 295.5 1047.8 296.5 1048.8 297.6 C1049.8 298.7 1050.5 299.1 1051.7 299.0 C1052.9 298.9 1054.5 298.5 1056.0 297.3 C1057.5 296.1 1059.2 294.1 1060.9 291.7 C1062.6 289.3 1064.6 285.7 1066.4 282.7 C1068.2 279.7 1070.2 276.2 1072.0 273.7 C1073.8 271.2 1075.8 269.2 1077.5 267.8 C1079.2 266.4 1081.0 265.8 1082.4 265.3 C1083.8 264.8 1084.7 264.8 1085.9 264.9 C1087.1 265.0 1088.2 265.2 1089.4 266.0 C1090.6 266.8 1091.8 268.0 1092.8 269.5 C1093.8 271.0 1094.7 272.7 1095.6 275.0 C1096.5 277.3 1097.2 279.9 1098.4 283.4 C1099.6 286.9 1101.1 291.7 1102.6 295.9 C1104.1 300.1 1105.8 304.1 1107.4 308.4 C1109.0 312.7 1110.8 317.8 1112.3 321.6 C1113.8 325.4 1115.2 329.0 1116.5 331.4 C1117.8 333.8 1118.8 335.2 1119.9 336.2 C1121.1 337.2 1122.1 337.5 1123.4 337.6 C1124.7 337.7 1126.2 337.4 1127.6 336.6 C1129.0 335.8 1130.4 334.4 1131.8 332.7 C1133.2 331.0 1134.6 328.7 1135.9 326.5 C1137.2 324.3 1138.1 322.8 1139.4 319.5 C1140.7 316.2 1142.3 311.4 1143.6 307.0 C1144.8 302.6 1145.9 297.7 1146.9 293.1 C1148.0 288.5 1149.0 283.6 1149.9 279.2 C1150.8 274.8 1151.8 270.6 1152.5 266.7 C1153.2 262.8 1153.9 259.3 1154.4 255.6 C1154.9 251.9 1155.4 246.4 1155.6 244.6" fill="none" stroke="#111" stroke-width="1.35" stroke-linecap="round"/>
<path d="M1148.4 249.6 L1155.6 244.5 L1161.4 251.6" fill="none" stroke="#111" stroke-width="1.35" stroke-linecap="round" stroke-linejoin="round"/>
<g transform="translate(8,830)">
<g fill="#2196f3"><circle cx="13.9" cy="7" r="7.05"/><circle cx="25.1" cy="11.9" r="7"/><circle cx="6.1" cy="12.8" r="6.1"/><rect x="6" y="9" width="19.2" height="9.9"/></g>
<path d="M1.3 16.1 L11.85 7.2 L19.7 14.4 L28 6.6" fill="none" stroke="#fff" stroke-width="1.1"/>
<circle cx="11.85" cy="7.2" r="2.15" fill="#fff"/><circle cx="19.7" cy="14.4" r="2.15" fill="#fff"/>
</g>
</svg>
<span class="t" style="left:9.20px;top:1.90px;font-size:15.0px;letter-spacing:0.40px;font-weight:bold;">TraderNick10</span>
<span class="t" style="left:112.30px;top:1.90px;font-size:15.0px;letter-spacing:0.63px;">published</span>
<span class="t" style="left:185.45px;top:1.90px;font-size:15.0px;letter-spacing:0.90px;">on</span>
<span class="t" style="left:208.25px;top:1.90px;font-size:15.0px;letter-spacing:0.82px;">TradingView.com,</span>
<span class="t" style="left:341.65px;top:1.90px;font-size:15.0px;letter-spacing:0.52px;">January</span>
<span class="t" style="left:403.00px;top:1.90px;font-size:15.0px;letter-spacing:0.80px;">07,</span>
<span class="t" style="left:428.95px;top:1.90px;font-size:15.0px;letter-spacing:0.50px;">2021</span>
<span class="t" style="left:469.05px;top:1.90px;font-size:15.0px;letter-spacing:0.70px;">17:25:05</span>
<span class="t" style="left:536.65px;top:1.90px;font-size:15.0px;letter-spacing:0.05px;">UTC</span>
<span class="t" style="left:7.90px;top:23.80px;font-size:15.0px;letter-spacing:0.05px;font-weight:bold;">BINANCE:BTCUSDT,</span>
<span class="t" style="left:161.60px;top:23.80px;font-size:15.0px;letter-spacing:0.20px;font-weight:bold;">60</span>
<span class="t" style="left:185.05px;top:23.80px;font-size:15.0px;letter-spacing:0.59px;">39693.91</span>
<span class="t" style="left:274.30px;top:23.80px;font-size:15.0px;letter-spacing:0.49px;">+2924.55</span>
<span class="t" style="left:346.00px;top:23.80px;font-size:15.0px;letter-spacing:0.37px;">(+7.95%)</span>
<span class="t" style="left:415.30px;top:23.80px;font-size:15.0px;letter-spacing:0.90px;font-weight:bold;">O:</span>
<span class="t" style="left:432.95px;top:23.80px;font-size:15.0px;letter-spacing:0.67px;color:#26a69a;">39120.01</span>
<span class="t" style="left:505.90px;top:23.80px;font-size:15.0px;letter-spacing:0.90px;font-weight:bold;">H:</span>
<span class="t" style="left:522.80px;top:23.80px;font-size:15.0px;letter-spacing:0.74px;color:#26a69a;">39699.56</span>
<span class="t" style="left:595.65px;top:23.80px;font-size:15.0px;letter-spacing:-0.50px;font-weight:bold;">L:</span>
<span class="t" style="left:609.60px;top:23.80px;font-size:15.0px;letter-spacing:0.74px;color:#26a69a;">39101.36</span>
<span class="t" style="left:682.35px;top:23.80px;font-size:15.0px;letter-spacing:0.90px;font-weight:bold;">C:</span>
<span class="t" style="left:698.75px;top:23.80px;font-size:15.0px;letter-spacing:0.67px;color:#26a69a;">39693.91</span>
<span class="t" style="left:18.80px;top:61.70px;font-size:15.0px;letter-spacing:0.23px;color:#4a4a4a;font-weight:bold;">Bitcoin</span>
<span class="t" style="left:87.50px;top:61.70px;font-size:15.0px;letter-spacing:0.58px;color:#4a4a4a;font-weight:bold;">TetherUS,</span>
<span class="t" style="left:165.80px;top:61.70px;font-size:15.0px;letter-spacing:0.90px;color:#4a4a4a;font-weight:bold;">1h,</span>
<span class="t" style="left:193.35px;top:61.70px;font-size:15.0px;letter-spacing:0.18px;color:#4a4a4a;font-weight:bold;">BINANCE</span>
<span class="t" style="left:115.30px;top:784.90px;font-size:14.8px;letter-spacing:0.50px;color:#555;">30</span>
<span class="t" style="left:293.99px;top:784.90px;font-size:14.8px;letter-spacing:-0.07px;color:#444;font-weight:bold;">2021</span>
<span class="t" style="left:430.64px;top:784.90px;font-size:14.8px;letter-spacing:0.10px;color:#555;">12:00</span>
<span class="t" style="left:585.08px;top:784.90px;font-size:14.8px;color:#555;">4</span>
<span class="t" style="left:770.77px;top:784.90px;font-size:14.8px;color:#555;">6</span>
<span class="t" style="left:956.96px;top:784.90px;font-size:14.8px;color:#555;">8</span>
<span class="t" style="left:1082.31px;top:784.90px;font-size:14.8px;letter-spacing:0.10px;color:#555;">12:00</span>
<span class="t" style="left:1232.95px;top:784.90px;font-size:14.8px;letter-spacing:0.50px;color:#555;">11</span>
<span class="t" style="left:1418.64px;top:784.90px;font-size:14.8px;letter-spacing:0.50px;color:#555;">13</span>
<span class="t" style="left:1472.95px;top:134.10px;font-size:14.8px;letter-spacing:-0.07px;color:#f2fffd;font-weight:bold;">39693.91</span>
<span class="t" style="left:1497.30px;top:156.00px;font-size:14.8px;letter-spacing:0.10px;color:#f2fffd;font-weight:bold;">34:56</span>
<span class="t" style="left:1266.55px;top:309.90px;font-size:13.6px;letter-spacing:0.21px;color:#2a2a2a;font-family:'DejaVu Sans','Liberation Sans',sans-serif;">range high</span>
<span class="t" style="left:1273.85px;top:462.90px;font-size:13.6px;letter-spacing:0.16px;color:#2a2a2a;font-family:'DejaVu Sans','Liberation Sans',sans-serif;">Range EQ</span>
<span class="t" style="left:1269.80px;top:613.90px;font-size:13.6px;letter-spacing:0.15px;color:#2a2a2a;font-family:'DejaVu Sans','Liberation Sans',sans-serif;">Range low</span>
<span class="t" style="left:42.30px;top:824.60px;font-size:15.4px;letter-spacing:0.42px;color:#1c1c1c;">TradingView</span>
<span class="t" style="left:75.2px;top:62.4px;font-size:20px;color:#4a4a4a;transform:scaleX(1.65);transform-origin:0 0;">/</span>
<span class="t" style="left:1485.3px;top:60.6px;font-size:14.2px;color:#555;transform:scaleX(0.89);transform-origin:0 0;">USDT</span>
</body></html>
